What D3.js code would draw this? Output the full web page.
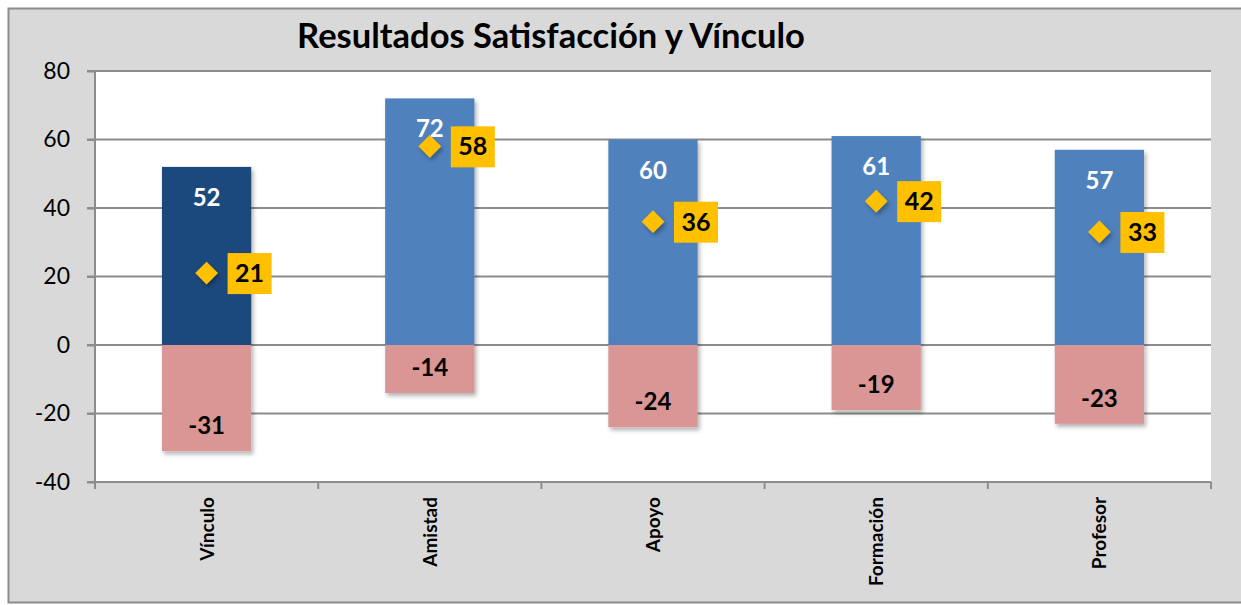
<!DOCTYPE html>
<html>
<head>
<meta charset="utf-8">
<style>
  body { margin: 0; background: #fff; }
  svg { display: block; }
  text { font-family: Lato, "Open Sans", sans-serif; }
  .grid line { stroke: #8c8c8c; stroke-width: 2; }
</style>
</head>
<body>
<script src="https://d3js.org/d3.v7.min.js"></script>
<script>

// data
var categories = ["Vínculo", "Amistad", "Apoyo", "Formación", "Profesor"];
var positives = [52, 72, 60, 61, 57];
var negatives = [-31, -14, -24, -19, -23];
var markers = [21, 58, 36, 42, 33];
var yTicks = [-40, -20, 0, 20, 40, 60, 80];

var width = 1241, height = 605;
var plot = {left: 95, right: 1211, top: 71, bottom: 482};

var svg = d3.select("body").append("svg")
    .attr("width", width)
    .attr("height", height);

var defs = svg.append("defs");
var shadow = defs.append("filter").attr("id", "shadow")
    .attr("x", "-10%").attr("y", "-10%").attr("width", "130%").attr("height", "130%");
shadow.append("feDropShadow")
    .attr("dx", 2).attr("dy", 3).attr("stdDeviation", 2)
    .attr("flood-color", "#000").attr("flood-opacity", 0.3);

// background + border
svg.append("rect")
    .attr("x", 8.5).attr("y", 8.5)
    .attr("width", width).attr("height", 594)
    .attr("fill", "#d9d9d9")
    .attr("stroke", "#8c8c8c").attr("stroke-width", 2);

svg.append("rect")
    .attr("x", plot.left).attr("y", plot.top)
    .attr("width", plot.right - plot.left)
    .attr("height", plot.bottom - plot.top)
    .attr("fill", "#fff");

var x = d3.scaleBand()
    .domain(categories)
    .range([plot.left, plot.right])
    .paddingInner(0.6)
    .paddingOuter(0.3);

var y = d3.scaleLinear()
    .domain([-40, 80])
    .range([plot.bottom, plot.top]);

// gridlines
svg.append("g").attr("class", "grid")
  .selectAll("line")
  .data(yTicks.filter(function(d) { return d > -40; }))
  .enter().append("line")
    .attr("x1", plot.left - 8).attr("x2", plot.right)
    .attr("y1", function(d) { return y(d); })
    .attr("y2", function(d) { return y(d); });

// y axis
var yAxis = svg.append("g")
    .attr("transform", "translate(" + plot.left + ",0)")
    .call(d3.axisLeft(y).tickValues(yTicks).tickSize(8).tickPadding(17)
      .tickFormat(function(d) { return String(d); }));
yAxis.selectAll("path, line").attr("stroke", "#8c8c8c").attr("stroke-width", 2);
yAxis.select(".domain").attr("d", "M0," + plot.top + "V" + plot.bottom);
yAxis.selectAll("text")
    .attr("font-size", 23)
    .attr("fill", "#000")
    .style("font-family", "Lato, sans-serif");

// x axis line + ticks at band boundaries
var boundaries = d3.range(categories.length + 1).map(function(i) {
  return plot.left + i * x.step();
});
svg.append("line")
    .attr("x1", plot.left - 8).attr("x2", plot.right)
    .attr("y1", plot.bottom).attr("y2", plot.bottom)
    .attr("stroke", "#8c8c8c").attr("stroke-width", 2);
svg.selectAll(".xtick")
  .data(boundaries)
  .enter().append("line")
    .attr("class", "xtick")
    .attr("x1", function(d) { return d; }).attr("x2", function(d) { return d; })
    .attr("y1", plot.bottom).attr("y2", plot.bottom + 7)
    .attr("stroke", "#8c8c8c").attr("stroke-width", 2);

// category labels (rotated)
svg.selectAll(".cat")
  .data(categories)
  .enter().append("text")
    .attr("class", "cat")
    .attr("transform", function(d) {
      return "translate(" + (x(d) + x.bandwidth() / 2 + 7) + "," + (plot.bottom + 15) + ") rotate(-90)";
    })
    .attr("text-anchor", "end")
    .attr("font-size", 19)
    .attr("font-weight", "bold")
    .attr("fill", "#000")
    .text(function(d) { return d; });

// bars
var bars = svg.append("g");
bars.selectAll(".pos")
  .data(categories)
  .enter().append("rect")
    .attr("class", "pos")
    .attr("x", function(d) { return x(d); })
    .attr("width", x.bandwidth())
    .attr("y", function(d, i) { return y(positives[i]); })
    .attr("height", function(d, i) { return y(0) - y(positives[i]); })
    .attr("fill", function(d, i) { return i === 0 ? "#1f497d" : "#4f81bd"; })
    .attr("filter", "url(#shadow)");

bars.selectAll(".neg")
  .data(categories)
  .enter().append("rect")
    .attr("class", "neg")
    .attr("x", function(d) { return x(d); })
    .attr("width", x.bandwidth())
    .attr("y", y(0))
    .attr("height", function(d, i) { return y(negatives[i]) - y(0); })
    .attr("fill", "#d99694")
    .attr("filter", "url(#shadow)");

// bar labels
svg.selectAll(".poslabel")
  .data(categories)
  .enter().append("text")
    .attr("x", function(d) { return x(d) + x.bandwidth() / 2; })
    .attr("y", function(d, i) { return y(positives[i]) + 39; })
    .attr("text-anchor", "middle")
    .attr("font-size", 24)
    .attr("font-weight", "bold")
    .attr("fill", "#fff")
    .text(function(d, i) { return positives[i]; });

svg.selectAll(".neglabel")
  .data(categories)
  .enter().append("text")
    .attr("x", function(d) { return x(d) + x.bandwidth() / 2; })
    .attr("y", function(d, i) { return y(negatives[i]) - 17; })
    .attr("text-anchor", "middle")
    .attr("font-size", 24)
    .attr("font-weight", "bold")
    .attr("fill", "#000")
    .text(function(d, i) { return negatives[i]; });

// diamonds
var mk = svg.selectAll(".marker")
  .data(categories)
  .enter().append("g")
    .attr("transform", function(d, i) {
      return "translate(" + (x(d) + x.bandwidth() / 2) + "," + y(markers[i]) + ")";
    });

mk.append("path")
    .attr("d", d3.symbol().type(d3.symbolDiamond2).size(330))
    .attr("fill", "#ffc000")
    .attr("filter", "url(#shadow)");

mk.append("rect")
    .attr("x", 21).attr("y", -20)
    .attr("width", 44).attr("height", 41)
    .attr("fill", "#ffc000");

mk.append("text")
    .attr("x", 43).attr("y", 9)
    .attr("text-anchor", "middle")
    .attr("font-size", 25)
    .attr("font-weight", "bold")
    .attr("fill", "#000")
    .text(function(d, i) { return markers[i]; });

// title
svg.append("text")
    .attr("x", 551).attr("y", 48)
    .attr("text-anchor", "middle")
    .attr("font-size", 34.5)
    .attr("font-weight", "bold")
    .attr("fill", "#000")
    .text("Resultados Satisfacción y Vínculo");

</script>
</body>
</html>
